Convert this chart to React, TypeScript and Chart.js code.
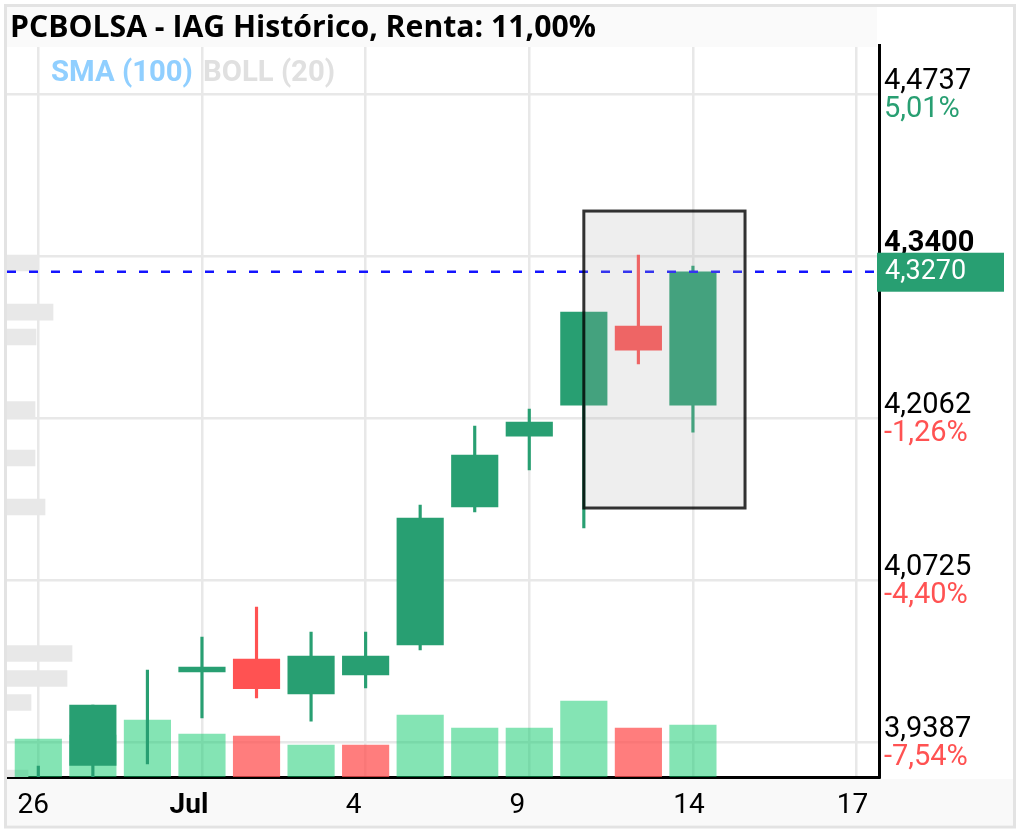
import React, { useEffect, useRef } from 'react';
import Chart from 'chart.js/auto';

// Sessions shown on the chart, in order
const sessions = ['26', '27', '30', '1', '2', '3', '4', '7', '8', '9', '10', '11', '14', '15', '16', '17'];

// OHLC (first candle body sits below the visible range)
const opens = [3.8619, 3.9193, 3.9205, 3.9965, 4.0072, 3.9783, 3.994, 4.0188, 4.1327, 4.1913, 4.2169, 4.2822, 4.2169];
const closes = [3.8949, 3.9692, 3.9205, 4.0006, 3.9828, 4.0097, 4.0097, 4.1236, 4.1757, 4.2029, 4.2937, 4.2623, 4.327];
const highs = [3.9189, 3.9692, 3.9981, 4.0254, 4.0502, 4.0295, 4.0295, 4.1344, 4.1996, 4.2136, 4.2937, 4.3408, 4.3317];
const lows = [3.8495, 3.8991, 3.9205, 3.9585, 3.975, 3.956, 3.9833, 4.0147, 4.1286, 4.1633, 4.1154, 4.2508, 4.1946];

// Volume per session and whether the volume bar is red
const volumes = [38, 42, 57, 43, 41, 32, 32, 62, 49, 49, 76, 49, 52];
const volumeDown = [false, false, false, false, true, false, true, false, false, false, false, true, false];

// Volume profile on the left side
const profilePrices = [4.3342, 4.2937, 4.2731, 4.2132, 4.1732, 4.1327, 4.0118, 3.9911, 3.9713, 3.909];
const profileSizes = [30, 46, 29, 28, 28, 38, 65, 60, 24, 21];

// Axis labels
const priceTicks = [4.4737, 4.34, 4.2062, 4.0725, 3.9387];
const priceLabels = ['4,4737', '4,3400', '4,2062', '4,0725', '3,9387'];
const percentLabels = ['5,01%', '', '-1,26%', '-4,40%', '-7,54%'];
const dateTicks = [0, 3, 6, 9, 12, 15];
const dateLabels = ['26', 'Jul', '4', '9', '14', '17'];

const lastPrice = 4.327;
const lastPriceLabel = '4,3270';
const titleText = 'PCBOLSA - IAG Histórico, Renta: 11,00%';

// Selected range, in session index and price
const selectionSessions = [10, 12.955];
const selectionPrices = [4.1319, 4.3771];

const GREEN = '#289f72';
const RED = '#ff5252';
const X_MIN = -0.574;
const X_MAX = 15.42;
const dateNudge = [-5, -13, -12, -12, -4, -4];

const decorPlugin = {
  id: 'decor',
  beforeDraw(chart: any) {
    const { ctx } = chart;
    ctx.save();
    ctx.fillStyle = '#ffffff';
    ctx.fillRect(0, 0, 1020, 833);
    ctx.fillStyle = '#f9f9f9';
    ctx.fillRect(7, 779, 1006, 46);
    ctx.restore();
  },
  beforeDatasetsDraw(chart: any) {
    const { ctx } = chart;
    ctx.save();
    ctx.fillStyle = '#fafafa';
    ctx.fillRect(7, 7, 870, 40);
    ctx.fillStyle = '#000';
    ctx.font = 'bold 30.2px "Open Sans"';
    ctx.textBaseline = 'alphabetic';
    ctx.fillText(titleText, 10, 37);
    ctx.font = 'bold 29.3px Roboto';
    ctx.fillStyle = '#90cfff';
    ctx.fillText('SMA (100)', 51, 81);
    ctx.fillStyle = '#e0e0e0';
    ctx.fillText('BOLL (20)', 203, 81);
    ctx.restore();
  },
  afterDatasetsDraw(chart: any) {
    const { ctx, scales } = chart;
    const { x, y } = scales;
    ctx.save();

    // selection box
    const left = x.getPixelForValue(selectionSessions[0]);
    const right = x.getPixelForValue(selectionSessions[1]);
    const top = y.getPixelForValue(selectionPrices[1]);
    const bottom = y.getPixelForValue(selectionPrices[0]);
    ctx.fillStyle = 'rgba(176,176,176,0.21)';
    ctx.fillRect(left, top, right - left, bottom - top);
    ctx.strokeStyle = 'rgba(0,0,0,0.8)';
    ctx.lineWidth = 3;
    ctx.strokeRect(left, top, right - left, bottom - top);

    // price labels with the percent underneath
    ctx.textBaseline = 'middle';
    ctx.textAlign = 'left';
    priceTicks.forEach((price, i) => {
      const py = y.getPixelForValue(price);
      ctx.font = (i === 1 ? 'bold ' : '') + '29px Roboto';
      ctx.fillStyle = '#000';
      ctx.fillText(priceLabels[i], 884, py - 12);
      if (percentLabels[i]) {
        ctx.font = '29px Roboto';
        ctx.fillStyle = percentLabels[i].startsWith('-') ? RED : GREEN;
        ctx.fillText(percentLabels[i], 884, py + 16);
      }
    });

    // last price tag
    const lastY = y.getPixelForValue(lastPrice);
    ctx.fillStyle = GREEN;
    ctx.fillRect(877, lastY - 19, 127, 39);
    ctx.fillStyle = '#fff';
    ctx.font = '27px Roboto';
    ctx.fillText(lastPriceLabel, 885, lastY + 1);

    // date labels
    ctx.textAlign = 'center';
    dateTicks.forEach((tick, i) => {
      ctx.font = (dateLabels[i] === 'Jul' ? 'bold ' : '') + '28px Roboto';
      ctx.fillStyle = '#000';
      ctx.fillText(dateLabels[i], x.getPixelForValue(tick) + dateNudge[i], 806);
    });

    // outer frame
    ctx.strokeStyle = '#e3e3e3';
    ctx.lineWidth = 3;
    ctx.strokeRect(5.5, 5.5, 1009, 821.5);
    ctx.restore();
  },
};

const App: React.FC = () => {
  const chartRef = useRef<HTMLCanvasElement>(null);

  useEffect(() => {
    if (!chartRef.current) return;

    const candleColors = opens.map((o, i) => (closes[i] >= o ? GREEN : RED));

    const chart = new Chart(chartRef.current, {
      type: 'bar',
      data: {
        datasets: [
          {
            type: 'line',
            data: [{ x: X_MIN, y: lastPrice }, { x: X_MAX, y: lastPrice }],
            borderColor: '#1414ff',
            borderWidth: 2.5,
            borderDash: [9, 13],
            pointRadius: 0,
            xAxisID: 'x',
            yAxisID: 'y',
            order: 1,
          },
          {
            data: sessions.slice(0, opens.length).map((_, i) => ({ x: i, y: [opens[i], closes[i]] })),
            // a session with no body only shows its wick
            backgroundColor: opens.map((o, i) => (closes[i] === o ? 'transparent' : candleColors[i])),
            barThickness: 46.5,
            xAxisID: 'x',
            yAxisID: 'y',
            order: 2,
          },
          {
            data: sessions.slice(0, opens.length).map((_, i) => ({ x: i, y: [lows[i], highs[i]] })),
            backgroundColor: candleColors,
            barThickness: 2.5,
            xAxisID: 'x',
            yAxisID: 'y',
            order: 3,
          },
          {
            data: volumes.map((v, i) => ({ x: i, y: v })),
            backgroundColor: volumeDown.map(d => (d ? 'rgba(255,82,82,0.75)' : 'rgba(9,202,105,0.5)')),
            barThickness: 46.5,
            xAxisID: 'x',
            yAxisID: 'yVolume',
            order: 5,
          },
          {
            indexAxis: 'y',
            data: profilePrices.map((p, i) => ({ x: profileSizes[i], y: p })),
            backgroundColor: '#e8e8e8',
            barThickness: 16,
            xAxisID: 'xProfile',
            yAxisID: 'y',
            order: 6,
          },
        ] as any,
      },
      options: {
        responsive: false,
        animation: false,
        devicePixelRatio: 1,
        datasets: { bar: { grouped: false } },
        layout: { padding: { left: 7, top: 45, right: 0, bottom: 0 } },
        plugins: { legend: { display: false }, tooltip: { enabled: false } },
        scales: {
          x: {
            type: 'linear',
            offset: false,
            min: X_MIN,
            max: X_MAX,
            afterBuildTicks: (s: any) => { s.ticks = dateTicks.map(value => ({ value })); },
            afterFit: (s: any) => { s.height = 56; },
            ticks: { display: false },
            grid: { offset: false, color: '#e8e8e8', lineWidth: 2.5, drawTicks: false },
            border: { color: '#000', width: 3 },
          },
          y: {
            type: 'linear',
            position: 'right',
            offset: false,
            min: 3.9098,
            max: 4.5142,
            afterBuildTicks: (s: any) => { s.ticks = priceTicks.map(value => ({ value })); },
            afterFit: (s: any) => { s.width = 140.5; },
            ticks: { display: false },
            grid: { offset: false, color: '#e8e8e8', lineWidth: 2.5, drawTicks: false },
            border: { color: '#000', width: 3 },
          },
          yVolume: { type: 'linear', display: false, offset: false, min: 0, max: 732 },
          xProfile: { type: 'linear', display: false, offset: false, min: 0, max: 872 },
        },
      } as any,
      plugins: [decorPlugin],
    });

    return () => {
      chart.destroy();
    };
  }, []);

  return (
    <div style={{ position: 'absolute', left: 0, top: 0, width: 1020, height: 833 }}>
      <canvas ref={chartRef} width={1020} height={833} style={{ display: 'block' }} />
    </div>
  );
};

export default App;
